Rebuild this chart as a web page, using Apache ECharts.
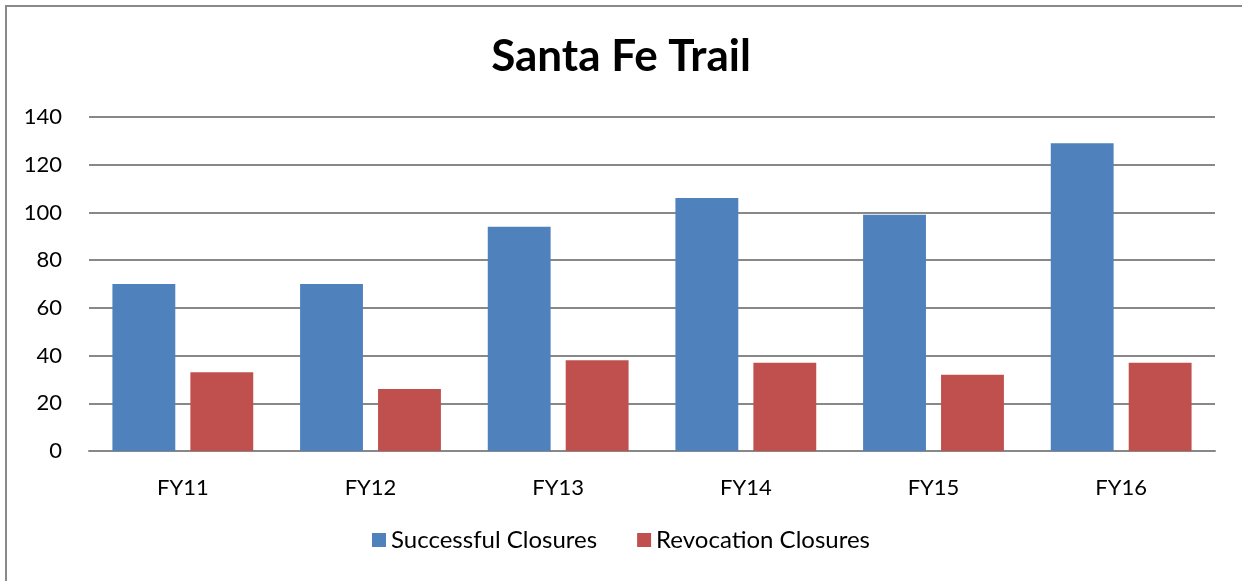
<!DOCTYPE html>
<html>
<head>
<meta charset="utf-8">
<script src="https://cdn.jsdelivr.net/npm/echarts@6/dist/echarts.min.js"></script>
<style>
  html, body { margin: 0; padding: 0; background: #fff; }
  #chart { width: 1242px; height: 581px; }
</style>
</head>
<body>
<div id="chart"></div>
<script>
const categories = ['FY11', 'FY12', 'FY13', 'FY14', 'FY15', 'FY16'];
const successful = [70, 70, 94, 106, 99, 129];
const revocation = [33, 26, 38, 37, 32, 37];
const seriesNames = ['Successful Closures', 'Revocation Closures'];

const font = 'Lato, "Open Sans", sans-serif';
let chart = echarts.init(document.getElementById('chart'));

const chartOptions = {
  animation: false,
  backgroundColor: '#fff',
  title: {
    text: 'Santa Fe Trail',
    left: 'center',
    top: 30,
    textStyle: { fontFamily: font, fontSize: 44, fontWeight: 'bold', color: '#000' }
  },
  graphic: [{
    type: 'rect',
    shape: { x: 6, y: 6, width: 1300, height: 700 },
    style: { fill: 'none', stroke: '#898989', lineWidth: 2 },
    silent: true
  }],
  legend: {
    bottom: 24,
    left: 'center',
    itemWidth: 14,
    itemHeight: 14,
    itemGap: 40,
    icon: 'rect',
    textStyle: { fontFamily: font, fontSize: 24, color: '#000' },
    data: seriesNames
  },
  grid: { left: 89, right: 27, top: 117, bottom: 130 },
  xAxis: {
    type: 'category',
    data: categories,
    axisTick: { show: false },
    axisLine: { lineStyle: { color: '#888', width: 2 } },
    axisLabel: { fontFamily: font, fontSize: 22, color: '#000', margin: 26 }
  },
  yAxis: {
    type: 'value',
    min: 0,
    max: 140,
    interval: 20,
    axisLine: { show: false },
    axisTick: { show: false },
    axisLabel: { fontFamily: font, fontSize: 22, color: '#000', margin: 27 },
    splitLine: { lineStyle: { color: '#888', width: 2 } }
  },
  series: [
    {
      name: seriesNames[0],
      type: 'bar',
      data: successful,
      barWidth: '33.5%',
      barGap: '24%',
      itemStyle: { color: '#4f81bd' }
    },
    {
      name: seriesNames[1],
      type: 'bar',
      data: revocation,
      barWidth: '33.5%',
      itemStyle: { color: '#c0504d' }
    }
  ]
};
chart.setOption(chartOptions);
</script>
</body>
</html>
